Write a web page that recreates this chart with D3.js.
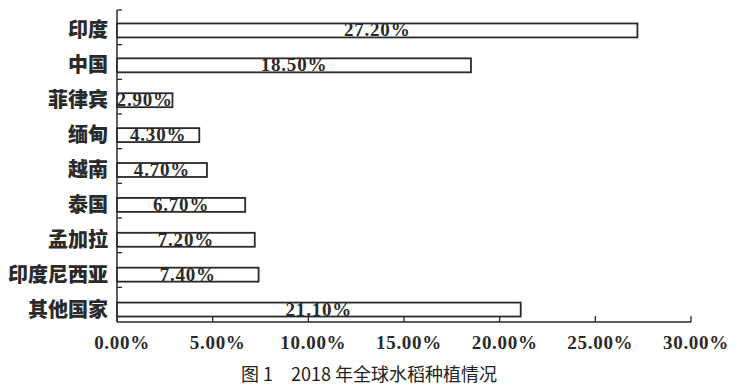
<!DOCTYPE html>
<html>
<head>
<meta charset="utf-8">
<title>2018年全球水稻种植情况</title>
<script src="https://cdn.jsdelivr.net/npm/d3@7/dist/d3.min.js"></script>
<style>
  *{ margin:0; padding:0; }
  body{ background:#fff; }
</style>
</head>
<body>
<div id="show"></div>
<script>
// 数据
var countries = ["印度","中国","菲律宾","缅甸","越南","泰国","孟加拉","印度尼西亚","其他国家"];
var shares = [27.2, 18.5, 2.9, 4.3, 4.7, 6.7, 7.2, 7.4, 21.1];
var xTicks = [0, 5, 10, 15, 20, 25, 30];
var caption = "图 1　2018 年全球水稻种植情况";

(function(){
var W = 738, H = 392;
var mLeft = 117, mRight = 691, mTop = 10, mBottom = 322;

var svg = d3.select("#show").append("svg")
            .attr("width", W)
            .attr("height", H);

var x = d3.scaleLinear().domain([0, 30]).range([mLeft, mRight]);
var y = d3.scaleBand().domain(countries).range([mTop + 3, mBottom + 5]).paddingInner(0.6).paddingOuter(0.3);

var ink = "#2a2a2a";

// 坐标轴
svg.append("line")
   .attr("x1", mLeft).attr("x2", mLeft)
   .attr("y1", mTop).attr("y2", mBottom)
   .attr("stroke", ink).attr("stroke-width", 1.5);
svg.append("line")
   .attr("x1", mLeft).attr("x2", mRight)
   .attr("y1", mBottom).attr("y2", mBottom)
   .attr("stroke", ink).attr("stroke-width", 1.5);

// y 轴刻度 (类别分隔)
var yStep = (mBottom - mTop) / countries.length;
svg.selectAll("line.ytick").data(countries).enter().append("line")
   .attr("class", "ytick")
   .attr("x1", mLeft).attr("x2", mLeft + 5)
   .attr("y1", function(d, i){ return mTop + i * yStep; })
   .attr("y2", function(d, i){ return mTop + i * yStep; })
   .attr("stroke", ink).attr("stroke-width", 1.3);

// x 轴刻度
svg.selectAll("line.xtick").data(xTicks).enter().append("line")
   .attr("class", "xtick")
   .attr("x1", function(d){ return x(d); }).attr("x2", function(d){ return x(d); })
   .attr("y1", mBottom).attr("y2", mBottom - 6)
   .attr("stroke", ink).attr("stroke-width", 1.3);

svg.selectAll("text.xlab").data(xTicks).enter().append("text")
   .attr("class", "xlab")
   .attr("x", function(d){ return x(d) + 5; })
   .attr("y", 349)
   .attr("text-anchor", "middle")
   .style("font-family", "'Liberation Serif', serif")
   .style("font-weight", "bold")
   .style("font-size", "19px")
   .style("letter-spacing", "0.7px")
   .attr("fill", ink)
   .text(function(d){ return d.toFixed(2) + "%"; });

// 类别标签
svg.selectAll("text.cat").data(countries).enter().append("text")
   .attr("class", "cat")
   .attr("x", 108)
   .attr("y", function(d){ return y(d) + y.bandwidth() / 2 + 7; })
   .attr("text-anchor", "end")
   .style("font-family", "'Noto Sans CJK SC', sans-serif")
   .style("font-weight", "900")
   .style("font-size", "20px")
   .attr("fill", ink)
   .text(function(d){ return d; });

// 条形
svg.selectAll("rect.bar").data(shares).enter().append("rect")
   .attr("class", "bar")
   .attr("x", x(0))
   .attr("y", function(d, i){ return y(countries[i]); })
   .attr("width", function(d){ return x(d) - x(0); })
   .attr("height", y.bandwidth())
   .attr("fill", "#fff")
   .attr("stroke", ink)
   .attr("stroke-width", 1.8);

// 数值标签
svg.selectAll("text.val").data(shares).enter().append("text")
   .attr("class", "val")
   .attr("x", function(d){ return (x(0) + x(d)) / 2; })
   .attr("y", function(d, i){ return y(countries[i]) + y.bandwidth() - 1; })
   .attr("text-anchor", "middle")
   .style("font-family", "'Liberation Serif', serif")
   .style("font-weight", "bold")
   .style("font-size", "19px")
   .style("letter-spacing", "0.8px")
   .attr("fill", ink)
   .text(function(d){ return d.toFixed(2) + "%"; });

// 图题
svg.append("text")
   .attr("x", 369)
   .attr("y", 381)
   .attr("text-anchor", "middle")
   .style("font-family", "'Noto Sans CJK SC', sans-serif")
   .style("font-size", "18px")
   .attr("fill", "#222")
   .text(caption);
})();
</script>
</body>
</html>
